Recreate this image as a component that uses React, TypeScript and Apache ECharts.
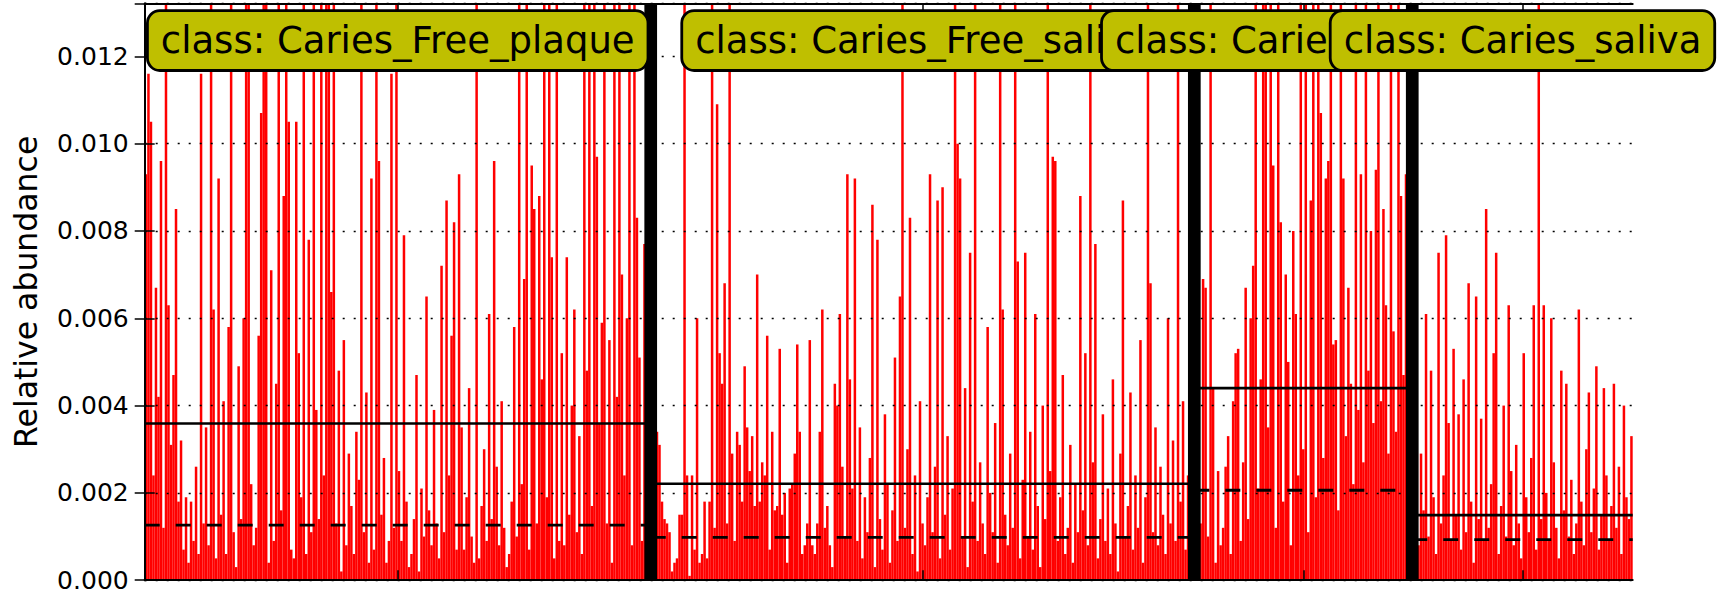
import React, { useEffect, useRef } from "react";
import * as echarts from "echarts";

// class names (in plotting order)
const classNames = ["Caries_Free_plaque", "Caries_Free_saliva", "Caries_plaque", "Caries_saliva"];

// relative abundance per sample, class Caries_Free_plaque
const cfPlaque = [
  0.0093, 0.0116, 0.0105, 0.0024, 0.0067, 0.0042, 0.0096, 0.0012, 0.0150, 0.0063,
  0.0031, 0.0047, 0.0085, 0.0018, 0.0032, 0.0007, 0.0019, 0.0004, 0.0018, 0.0009,
  0.0026, 0.0006, 0.0116, 0.0013, 0.0035, 0.0008, 0.0150, 0.0062, 0.0005, 0.0092,
  0.0015, 0.0041, 0.0006, 0.0058, 0.0172, 0.0011, 0.0003, 0.0049, 0.0014, 0.0060,
  0.0158, 0.0145, 0.0022, 0.0008, 0.0012, 0.0056, 0.0107, 0.0163, 0.0150, 0.0004,
  0.0071, 0.0009, 0.0045, 0.0181, 0.0016, 0.0088, 0.0149, 0.0105, 0.0007, 0.0005,
  0.0105, 0.0052, 0.0019, 0.0147, 0.0006, 0.0078, 0.0011, 0.0162, 0.0039, 0.0014,
  0.0155, 0.0024, 0.0170, 0.0143, 0.0066, 0.0152, 0.0013, 0.0048, 0.0002, 0.0055,
  0.0008, 0.0029, 0.0017, 0.0006, 0.0034, 0.0023, 0.0159, 0.0011, 0.0043, 0.0004,
  0.0092, 0.0007, 0.0166, 0.0096, 0.0015, 0.0028, 0.0004, 0.0009, 0.0116, 0.0012,
  0.0151, 0.0025, 0.0009, 0.0079, 0.0018, 0.0003, 0.0006, 0.0014, 0.0047, 0.0002,
  0.0021, 0.0010, 0.0065, 0.0016, 0.0008, 0.0039, 0.0013, 0.0005, 0.0072, 0.0011,
  0.0087, 0.0024, 0.0056, 0.0082, 0.0007, 0.0093, 0.0035, 0.0007, 0.0019, 0.0044,
  0.0010, 0.0004, 0.0148, 0.0005, 0.0017, 0.0030, 0.0009, 0.0061, 0.0014, 0.0096,
  0.0026, 0.0008, 0.0041, 0.0012, 0.0003, 0.0006, 0.0018, 0.0058, 0.0010, 0.0157,
  0.0022, 0.0069, 0.0144, 0.0007, 0.0095, 0.0085, 0.0013, 0.0088, 0.0046, 0.0161,
  0.0019, 0.0153, 0.0074, 0.0005, 0.0168, 0.0009, 0.0052, 0.0008, 0.0074, 0.0015,
  0.0040, 0.0062, 0.0011, 0.0033, 0.0006, 0.0146, 0.0048, 0.0154, 0.0017, 0.0165,
  0.0097, 0.0036, 0.0059, 0.0150, 0.0013, 0.0055, 0.0004, 0.0156, 0.0042, 0.0149,
  0.0070, 0.0024, 0.0060, 0.0145, 0.0008, 0.0162, 0.0083, 0.0051, 0.0009, 0.0077,
  0.0015, 0.0044,
];

// class Caries_Free_saliva
const cfSaliva = [
  0.0029, 0.0021, 0.0034, 0.0031, 0.0018, 0.0014, 0.0013, 0.0011, 0.0002, 0.0004,
  0.0005, 0.0015, 0.0015, 0.0150, 0.0024, 0.0001, 0.0024, 0.0007, 0.0060, 0.0004,
  0.0006, 0.0018, 0.0005, 0.0018, 0.0148, 0.0012, 0.0109, 0.0052, 0.0045, 0.0068,
  0.0013, 0.0155, 0.0029, 0.0009, 0.0034, 0.0031, 0.0018, 0.0049, 0.0035, 0.0025,
  0.0033, 0.0017, 0.0070, 0.0018, 0.0027, 0.0024, 0.0056, 0.0007, 0.0034, 0.0016,
  0.0017, 0.0053, 0.0015, 0.0020, 0.0004, 0.0021, 0.0022, 0.0029, 0.0054, 0.0034,
  0.0006, 0.0008, 0.0013, 0.0055, 0.0008, 0.0006, 0.0013, 0.0034, 0.0062, 0.0012,
  0.0017, 0.0008, 0.0003, 0.0045, 0.0040, 0.0061, 0.0026, 0.0010, 0.0093, 0.0046,
  0.0021, 0.0092, 0.0009, 0.0035, 0.0005, 0.0019, 0.0011, 0.0028, 0.0086, 0.0003,
  0.0078, 0.0014, 0.0007, 0.0038, 0.0022, 0.0004, 0.0016, 0.0051, 0.0009, 0.0065,
  0.0152, 0.0012, 0.0030, 0.0083, 0.0006, 0.0024, 0.0002, 0.0041, 0.0013, 0.0008,
  0.0019, 0.0093, 0.0011, 0.0026, 0.0087, 0.0005, 0.0090, 0.0015, 0.0033, 0.0007,
  0.0021, 0.0160, 0.0100, 0.0092, 0.0010, 0.0044, 0.0003, 0.0075, 0.0018, 0.0146,
  0.0009, 0.0027, 0.0013, 0.0006, 0.0058, 0.0020, 0.0011, 0.0036, 0.0004, 0.0157,
  0.0062, 0.0015, 0.0008, 0.0029, 0.0012, 0.0149, 0.0073, 0.0005, 0.0023, 0.0075,
  0.0010, 0.0034, 0.0007, 0.0061, 0.0017, 0.0003, 0.0040, 0.0014, 0.0163, 0.0025,
  0.0097, 0.0096, 0.0009, 0.0019, 0.0047, 0.0006, 0.0012, 0.0031, 0.0004, 0.0022,
  0.0011, 0.0088, 0.0016, 0.0052, 0.0008, 0.0151, 0.0027, 0.0077, 0.0005, 0.0014,
  0.0038, 0.0009, 0.0021, 0.0006, 0.0046, 0.0013, 0.0002, 0.0029, 0.0087, 0.0010,
  0.0017, 0.0043, 0.0007, 0.0024, 0.0012, 0.0055, 0.0004, 0.0019, 0.0154, 0.0068,
  0.0011, 0.0035, 0.0008, 0.0026, 0.0015, 0.0006, 0.0060, 0.0013, 0.0032, 0.0009,
  0.0158, 0.0018, 0.0041, 0.0007, 0.0024, 0.0012, 0.0033,
];

// class Caries_plaque
const cPlaque = [
  0.0026, 0.0007, 0.0013, 0.0069, 0.0067, 0.0010, 0.0150, 0.0044, 0.0004, 0.0025,
  0.0008, 0.0012, 0.0026, 0.0033, 0.0006, 0.0041, 0.0052, 0.0053, 0.0009, 0.0027,
  0.0067, 0.0014, 0.0060, 0.0072, 0.0156, 0.0021, 0.0046, 0.0161, 0.0148, 0.0035,
  0.0153, 0.0095, 0.0012, 0.0147, 0.0082, 0.0018, 0.0070, 0.0050, 0.0008, 0.0080,
  0.0061, 0.0024, 0.0158, 0.0030, 0.0151, 0.0011, 0.0087, 0.0166, 0.0019, 0.0144,
  0.0107, 0.0028, 0.0092, 0.0096, 0.0152, 0.0054, 0.0055, 0.0016, 0.0149, 0.0092,
  0.0033, 0.0067, 0.0045, 0.0022, 0.0163, 0.0039, 0.0093, 0.0027, 0.0155, 0.0048,
  0.0080, 0.0036, 0.0094, 0.0150, 0.0041, 0.0085, 0.0063, 0.0029, 0.0146, 0.0057,
  0.0034, 0.0159, 0.0088, 0.0047, 0.0093, 0.0038, 0.0035,
];

// class Caries_saliva
const cSaliva = [
  0.0021, 0.0012, 0.0008, 0.0029, 0.0016, 0.0061, 0.0010, 0.0048, 0.0019, 0.0006,
  0.0075, 0.0013, 0.0024, 0.0079, 0.0036, 0.0009, 0.0053, 0.0015, 0.0038, 0.0007,
  0.0046, 0.0011, 0.0068, 0.0018, 0.0004, 0.0065, 0.0014, 0.0037, 0.0009, 0.0085,
  0.0012, 0.0022, 0.0052, 0.0075, 0.0006, 0.0017, 0.0040, 0.0010, 0.0063, 0.0025,
  0.0008, 0.0031, 0.0013, 0.0005, 0.0052, 0.0019, 0.0011, 0.0028, 0.0063, 0.0007,
  0.0150, 0.0014, 0.0063, 0.0020, 0.0009, 0.0060, 0.0027, 0.0012, 0.0005, 0.0048,
  0.0016, 0.0045, 0.0010, 0.0023, 0.0006, 0.0013, 0.0062, 0.0018, 0.0008, 0.0030,
  0.0043, 0.0011, 0.0021, 0.0049, 0.0007, 0.0015, 0.0044, 0.0024, 0.0009, 0.0017,
  0.0045, 0.0012, 0.0026, 0.0006, 0.0040, 0.0019, 0.0014, 0.0033,
];

// per-class mean (solid line) and median (dashed line)
const groupMeans = [0.00359, 0.00221, 0.0044, 0.00149];
const groupMedians = [0.00126, 0.00098, 0.00206, 0.00093];

// y axis
const yMin = 0;
const yMax = 0.01321;
const yInterval = 0.002;

export default function App() {
  const ref = useRef<HTMLDivElement>(null);

  useEffect(() => {
    const el = ref.current;
    if (!el) return;
    const chart = echarts.init(el, null, { renderer: "svg" });

    const groups = [cfPlaque, cfSaliva, cPlaque, cSaliva];
    const all: number[] = ([] as number[]).concat(...groups);
    const N = all.length;
    const starts: number[] = [];
    let acc = 0;
    groups.forEach((g) => {
      starts.push(acc);
      acc += g.length;
    });
    const ends = starts.map((s, i) => s + groups[i].length);
    const centers = starts.map((s, i) => (s + ends[i]) / 2);
    const boundaries = ends.slice(0, -1);
    const labelY = 0.01236;

    const black = "#000000";
    const font = "DejaVu Sans";

    const meanSeries = groups.map((_, i) => ({
      type: "line",
      xAxisIndex: 1,
      yAxisIndex: 0,
      data: [
        [starts[i], groupMeans[i]],
        [ends[i], groupMeans[i]],
      ],
      symbol: "none",
      silent: true,
      lineStyle: { color: black, width: 2.6 },
      z: 4,
    }));
    const medianSeries = groups.map((_, i) => ({
      type: "line",
      xAxisIndex: 1,
      yAxisIndex: 0,
      data: [
        [starts[i], groupMedians[i]],
        [ends[i], groupMedians[i]],
      ],
      symbol: "none",
      silent: true,
      lineStyle: { color: black, width: 2.8, type: [15, 16], dashOffset: 0 },
      z: 4,
    }));
    const sepSeries = boundaries.map((b) => ({
      type: "line",
      xAxisIndex: 1,
      yAxisIndex: 0,
      data: [
        [b, yMin],
        [b, yMax],
      ],
      symbol: "none",
      silent: true,
      lineStyle: { color: black, width: 12.7, cap: "butt" },
      z: 5,
    }));
    const labelSeries = classNames.map((c, i) => ({
      type: "scatter",
      xAxisIndex: 1,
      yAxisIndex: 0,
      data: [[centers[i], labelY]],
      symbolSize: 1,
      itemStyle: { color: "rgba(0,0,0,0)", opacity: 1 },
      silent: true,
      clip: false,
      z: 10 + i,
      label: {
        show: true,
        position: "inside",
        formatter: "class: " + c,
        fontFamily: font,
        fontSize: 37,
        lineHeight: 41,
        color: black,
        opacity: 1,
        backgroundColor: "#bfbf00",
        borderColor: black,
        borderWidth: 2.8,
        borderRadius: 11,
        padding: [8, 12, 8, 12],
      },
    }));

    chart.setOption({
      animation: false,
      textStyle: { fontFamily: font },
      grid: { left: 144.7, right: 86.3, top: 3.5, bottom: 12.8, containLabel: false },
      xAxis: [
        {
          type: "category",
          data: all.map((_, i) => i),
          boundaryGap: true,
          position: "bottom",
          axisLine: { show: true, lineStyle: { color: black, width: 2 } },
          axisTick: { show: false },
          axisLabel: { show: false },
          splitLine: { show: false },
          z: 3,
        },
        {
          type: "value",
          min: 0,
          max: N,
          position: "bottom",
          axisLine: { show: false },
          axisTick: { show: true, inside: true, length: 10, customValues: centers, lineStyle: { color: black, width: 1.5 } },
          axisLabel: { show: false },
          splitLine: { show: false },
          z: 3,
        },
        {
          type: "value",
          min: 0,
          max: N,
          position: "top",
          axisLine: { show: true, lineStyle: { color: black, width: 2 } },
          axisTick: { show: true, inside: true, length: 10, customValues: centers, lineStyle: { color: black, width: 1.5 } },
          axisLabel: { show: false },
          splitLine: { show: false },
          z: 3,
        },
      ],
      yAxis: [
        {
          type: "value",
          min: yMin,
          max: yMax,
          interval: yInterval,
          position: "left",
          name: "Relative abundance",
          nameLocation: "middle",
          nameRotate: 90,
          nameGap: 103,
          nameTextStyle: { fontFamily: font, fontSize: 31.5, color: black },
          axisLine: { show: true, lineStyle: { color: black, width: 2 } },
          axisTick: { show: true, inside: true, length: 10, lineStyle: { color: black, width: 1.5 } },
          axisLabel: {
            show: true,
            margin: 16,
            showMaxLabel: false,
            fontFamily: font,
            fontSize: 25,
            color: black,
            formatter: (v: number) => v.toFixed(3),
          },
          splitLine: { show: true, lineStyle: { color: black, width: 1.3, type: [2, 9] } },
          z: 3,
        },
        {
          type: "value",
          min: yMin,
          max: yMax,
          interval: yInterval,
          position: "right",
          axisLine: { show: true, lineStyle: { color: black, width: 2 } },
          axisTick: { show: true, inside: true, length: 10, lineStyle: { color: black, width: 1.5 } },
          axisLabel: { show: false },
          splitLine: { show: false },
          z: 3,
        },
      ],
      series: [
        {
          type: "bar",
          xAxisIndex: 0,
          yAxisIndex: 0,
          data: all,
          barCategoryGap: "0%",
          itemStyle: { color: "#ff0000" },
          clip: true,
          silent: true,
          z: 2,
        },
        ...meanSeries,
        ...medianSeries,
        ...sepSeries,
        ...labelSeries,
      ],
    } as any);

    return () => {
      chart.dispose();
    };
  }, []);

  return (
    <div
      ref={ref}
      style={{ position: "fixed", left: 0, top: 0, width: 1719, height: 593, background: "#ffffff" }}
    />
  );
}
